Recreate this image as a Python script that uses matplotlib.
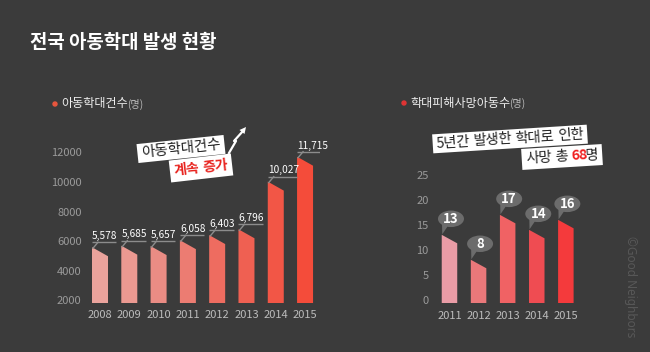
import matplotlib
matplotlib.use('Agg')
import matplotlib.pyplot as plt
from matplotlib.patches import Polygon, Ellipse
from matplotlib.lines import Line2D
from matplotlib.transforms import IdentityTransform
import numpy as np

plt.rcParams['font.family'] = ['Noto Sans CJK KR', 'DejaVu Sans']

W, H = 650, 352
BG = '#3b3b3b'

title = '전국 아동학대 발생 현황'
left_title = '아동학대건수'
right_title = '학대피해사망아동수'
unit = '(명)'

years_cases = ['2008', '2009', '2010', '2011', '2012', '2013', '2014', '2015']
cases = [5578, 5685, 5657, 6058, 6403, 6796, 10027, 11715]
case_labels = ['5,578', '5,685', '5,657', '6,058', '6,403', '6,796', '10,027', '11,715']
case_colors = ['#eaa39c', '#eb9991', '#ea8c84', '#ec7c72', '#ee6c60', '#ef6052', '#f25646', '#f44c3a']
left_yticks = [2000, 4000, 6000, 8000, 10000, 12000]

years_deaths = ['2011', '2012', '2013', '2014', '2015']
deaths = [13, 8, 17, 14, 16]
death_colors = ['#ea9ca6', '#ea787a', '#f06264', '#ef4c52', '#f43a3c']
right_yticks = [0, 5, 10, 15, 20, 25]

fig = plt.figure(figsize=(W / 100, H / 100), dpi=100, facecolor=BG)
renderer = fig.canvas.get_renderer()
ID = IdentityTransform()


def fx(px):
    return px / W


def fy(py):
    return 1 - py / H


def add_ax(l, t, r, b):
    ax = fig.add_axes([l / W, 1 - b / H, (r - l) / W, (b - t) / H])
    ax.set_facecolor('none')
    for s in ax.spines.values():
        s.set_visible(False)
    return ax


# ---------- titles ----------
fig.text(fx(30), fy(42), title, color='white', fontsize=13.6, fontweight='bold',
         ha='left', va='center')


def subtitle(x, y, txt, bullet_color):
    fig.add_artist(Ellipse((x, H - y), 4, 4, transform=ID, color=bullet_color))
    t = fig.text(fx(x + 6), fy(y), txt, color='#eeeeee', fontsize=8.7,
                 ha='left', va='center')
    bb = t.get_window_extent(renderer)
    fig.text((bb.x1 - 0.5) / W, fy(y), unit, color='#bbbbbb', fontsize=7.3,
             ha='left', va='center')


subtitle(55, 104, left_title, '#e8563e')
subtitle(404, 103, right_title, '#e03434')

# ---------- left chart ----------
axL = add_ax(85, 120, 320, 303)
yl0, yl1 = 1797, 14203
xl0, xl1 = -0.512, 7.51
axL.set_xlim(xl0, xl1)
axL.set_ylim(yl0, yl1)
dppx = (xl1 - xl0) / 235
dppy = (yl1 - yl0) / 183
bw = 16 * dppx
drop = 9 * dppy
for i, (v, c, lab) in enumerate(zip(cases, case_colors, case_labels)):
    xl = i - bw / 2
    axL.add_patch(Polygon([(xl, yl0), (xl, v), (xl + bw, v - drop), (xl + bw, yl0)],
                          closed=True, fc=c, ec='none'))
    ly = v + 5 * dppy
    llen = 4.9 * len(lab) * dppx
    axL.plot([xl, xl + llen], [ly, ly], color='#8c8c8c', lw=1.0, solid_capstyle='butt')
    axL.plot([xl + 1 * dppx, xl + 6 * dppx], [v - 1 * dppy, ly], color='#8c8c8c', lw=1.0)
    axL.text(xl, ly + 1.2 * dppy, lab, color='white', fontsize=7.3, ha='left', va='bottom')
axL.set_xticks(range(len(years_cases)))
axL.set_xticklabels(years_cases)
axL.set_yticks(left_yticks)
axL.set_yticklabels([str(t) for t in left_yticks])
axL.tick_params(axis='both', length=0, colors='#9a9a9a', labelsize=8)
axL.tick_params(axis='x', pad=5, colors='#bcbcbc')
axL.tick_params(axis='y', pad=2.5)

# ---------- right chart ----------
axR = add_ax(432, 120, 590, 303)
yr0, yr1 = -0.66, 36
xr0, xr1 = -0.601, 4.83
axR.set_xlim(xr0, xr1)
axR.set_ylim(yr0, yr1)
rdpx = (xr1 - xr0) / 158
rdpy = (yr1 - yr0) / 183
rbw = 15.5 * rdpx
rdrop = 8.5 * rdpy
BUB = '#6c6c6c'
for i, (v, c) in enumerate(zip(deaths, death_colors)):
    xl = i - rbw / 2
    axR.add_patch(Polygon([(xl, yr0), (xl, v), (xl + rbw, v - rdrop), (xl + rbw, yr0)],
                          closed=True, fc=c, ec='none'))
    cx = i + 1.5 * rdpx
    cy = v + 16 * rdpy
    axR.add_patch(Polygon([(cx - 9 * rdpx, cy - 3 * rdpy), (cx - 3 * rdpx, cy - 7 * rdpy),
                           (xl + 0.5 * rdpx, v + 0.5 * rdpy)], closed=True, fc=BUB, ec='none'))
    axR.add_patch(Ellipse((cx, cy), 26 * rdpx, 16.5 * rdpy, fc=BUB, ec='none'))
    axR.text(cx, cy, str(v), color='white', fontsize=9.5, fontweight='bold',
             ha='center', va='center')
axR.set_xticks(range(len(years_deaths)))
axR.set_xticklabels(years_deaths)
axR.set_yticks(right_yticks)
axR.set_yticklabels([str(t) for t in right_yticks])
axR.tick_params(axis='both', length=0, colors='#9a9a9a', labelsize=8)
axR.tick_params(axis='x', pad=6, colors='#bcbcbc')
axR.tick_params(axis='y', pad=2.5)


# ---------- callout boxes ----------
def rich_box(pieces, cx, cy, angle, fs, padx=4.0, bh=None):
    widths = []
    hs = []
    for s, c, wt, gap in pieces:
        t = fig.text(0, 0, s, fontsize=fs, fontweight=wt)
        bb = t.get_window_extent(renderer)
        widths.append(bb.width)
        hs.append(bb.height)
        t.remove()
    total = sum(widths) + sum(p[3] for p in pieces[:-1])
    if bh is None:
        bh = max(hs)
    a = np.deg2rad(angle)
    ux, uy = np.cos(a), np.sin(a)
    vx, vy = -np.sin(a), np.cos(a)
    dcx, dcy = cx, H - cy
    bwid = total + 2 * padx
    corners = [(dcx + sx * bwid / 2 * ux + sy * bh / 2 * vx,
                dcy + sx * bwid / 2 * uy + sy * bh / 2 * vy)
               for sx, sy in [(-1, -1), (1, -1), (1, 1), (-1, 1)]]
    fig.add_artist(Polygon(corners, closed=True, transform=ID, fc='white', ec='none'))
    x0 = dcx - total / 2 * ux
    y0 = dcy - total / 2 * uy
    acc = 0
    for (s, c, wt, gap), w in zip(pieces, widths):
        fig.text(x0 + acc * ux, y0 + acc * uy, s, transform=ID, rotation=angle,
                 rotation_mode='anchor', ha='left', va='center', fontsize=fs,
                 color=c, fontweight=wt)
        acc += w + gap


BLACK = '#222222'
RED = '#e8231e'
rich_box([('아동학대건수', BLACK, 'normal', 0)], 181, 149, 6.0, 10.4, bh=19)
rich_box([('계속', RED, 'bold', 3.5), ('증가', RED, 'bold', 0)], 201, 168, 6.5, 10.0, bh=22)
rich_box([('5년간', BLACK, 'normal', 3), ('발생한', BLACK, 'normal', 3),
          ('학대로', BLACK, 'normal', 3), ('인한', BLACK, 'normal', 0)],
         510, 139, 3.6, 10.2, bh=19)
rich_box([('사망', BLACK, 'normal', 3), ('총', BLACK, 'normal', 3),
          ('68', '#f02020', 'bold', -2.0), ('명', BLACK, 'normal', 0)],
         562, 157, 3.5, 10.2, bh=21)

# zigzag arrow
zx = [229, 236, 234, 243]
zy = [153, 141, 141, 131]
fig.add_artist(Line2D(zx, [H - y for y in zy], transform=ID, color='white', lw=1.6))
fig.add_artist(Polygon([(246, H - 127), (239.5, H - 130), (244.5, H - 134)], closed=True,
                       transform=ID, fc='white', ec='none'))

# watermark
fig.text(fx(631), fy(287), '©Good Neighbors', rotation=-90, color='#585858',
         fontsize=8.5, ha='center', va='center', family=['Noto Sans', 'DejaVu Sans'])

fig.savefig('out.png', dpi=100, facecolor=BG)
